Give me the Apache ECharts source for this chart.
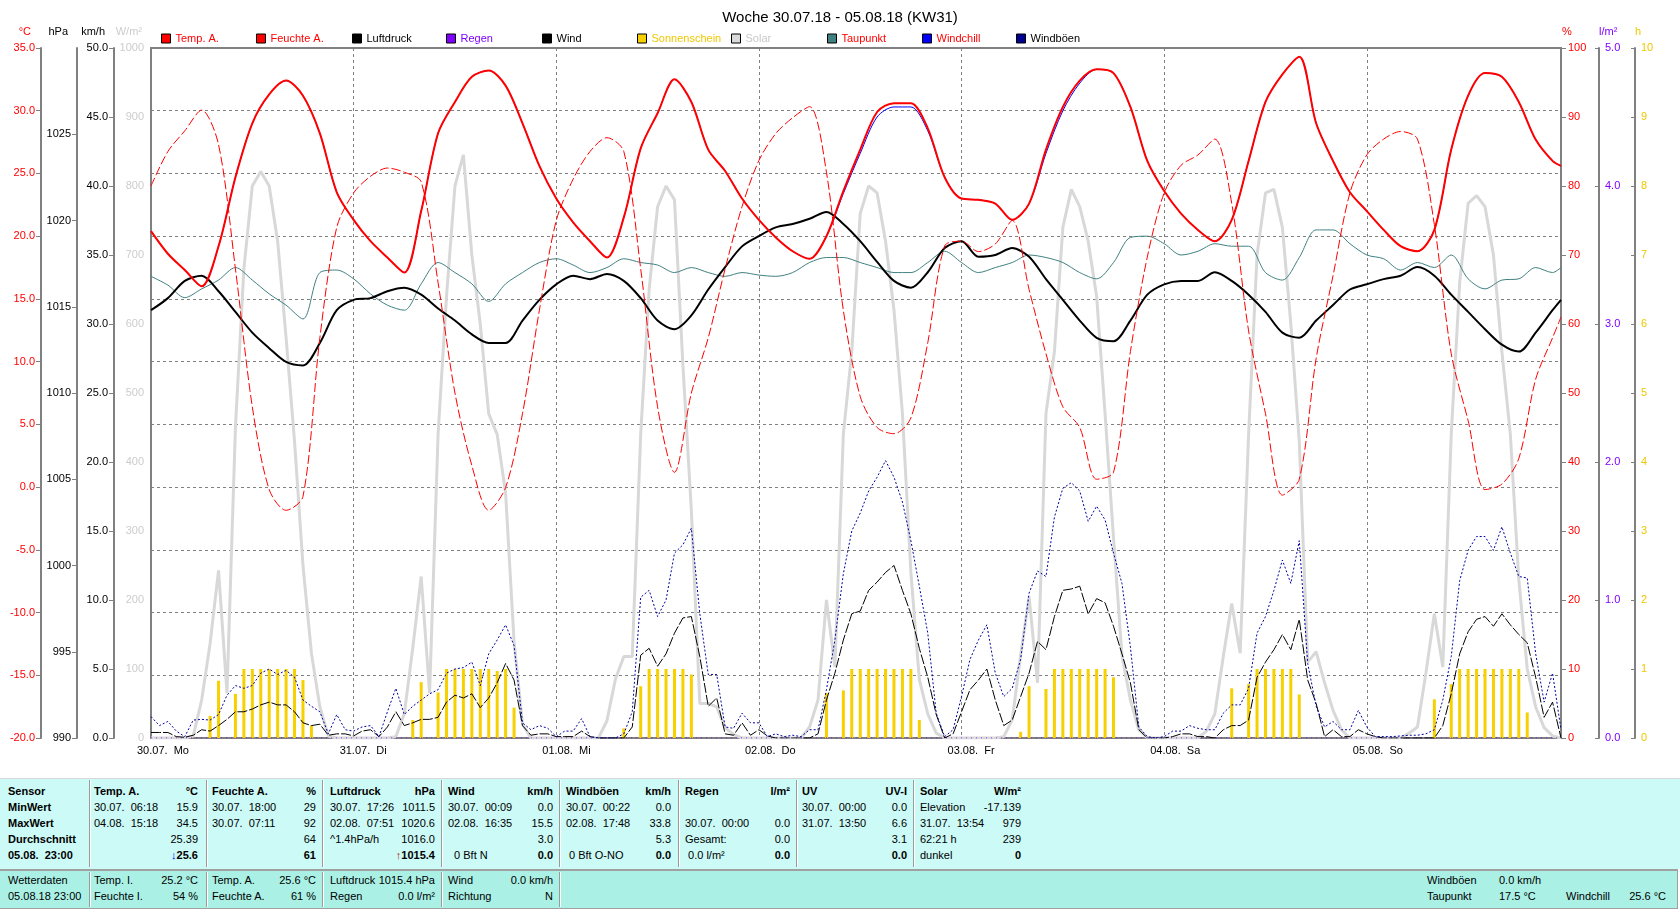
<!DOCTYPE html>
<html>
<head>
<meta charset="utf-8">
<title>Woche 30.07.18 - 05.08.18 (KW31)</title>
<script src="https://cdn.jsdelivr.net/npm/echarts@6/dist/echarts.min.js"></script>
<style>
html,body{margin:0;padding:0;background:#ffffff;overflow:hidden;}
#chart{position:absolute;left:0;top:0;width:1680px;height:909px;}
#tbl{position:absolute;left:0;top:0;width:1680px;height:909px;pointer-events:none;font-family:"Liberation Sans",Arial,sans-serif;font-size:11px;color:#000;}
#tbl .box{position:absolute;box-sizing:border-box;}
#tbl .sep{position:absolute;width:1px;background:#9a9a9a;border-right:1px solid #ffffff;}
#tbl .t{position:absolute;white-space:pre;line-height:14px;height:14px;}
</style>
</head>
<body>
<div id="chart"></div>
<div id="tbl"></div>
<script>
// ---------------- DATA ----------------
const DAY_HOURS = [0, 24, 48, 72, 96, 120, 144];
const DAY_LABELS = ['30.07.  Mo', '31.07.  Di', '01.08.  Mi', '02.08.  Do', '03.08.  Fr', '04.08.  Sa', '05.08.  So'];

// time grid (hours since 30.07. 00:00)
const HOURS_2H = [0,2,4,6,8,10,12,14,16,18,20,22,24,26,28,30,32,34,36,38,40,42,44,46,48,50,52,54,56,58,60,62,64,66,68,70,
  72,74,76,78,80,82,84,86,88,90,92,94,96,98,100,102,104,106,108,110,112,114,116,118,120,122,124,126,128,130,132,134,136,138,140,142,
  144,146,148,150,152,154,156,158,160,162,164,166,167];
const HOURS_1H = Array.from({length: 168}, (_, i) => i);

// Temp. A. (°C), 2-hourly
const TEMP = [
  20.4,18.6,17.3,16.0,19.2,24.7,29.0,31.3,32.4,31.2,28.2,23.5,
  21.3,19.6,18.3,17.1,22.0,28.2,30.7,32.7,33.2,32.0,29.0,25.6,
  23.0,21.1,19.6,18.3,21.5,27.0,29.8,32.5,30.7,26.9,25.2,23.0,
  21.3,19.9,18.8,18.2,20.0,23.6,26.9,29.9,30.6,30.6,28.6,24.7,
  23.0,22.9,22.6,21.3,22.6,26.9,30.3,32.4,33.3,33.0,30.3,26.0,
  23.6,21.8,20.5,19.6,21.3,26.0,30.7,32.9,34.3,29.0,26.0,23.5,
  22.0,20.5,19.2,18.8,20.5,26.9,31.2,33.0,32.7,30.7,27.7,26.0,25.6];
// Windchill (°C), 2-hourly
const WINDCHILL = [
  20.4,18.6,17.3,16.0,19.2,24.7,29.0,31.3,32.4,31.2,28.2,23.5,
  21.3,19.6,18.3,17.1,22.0,28.2,30.7,32.7,33.2,32.0,29.0,25.6,
  23.0,21.1,19.6,18.3,21.5,27.0,29.8,32.5,30.7,26.9,25.2,23.0,
  21.3,19.9,18.8,18.2,20.0,23.4,26.6,29.5,30.3,30.3,28.4,24.7,
  23.0,22.9,22.6,21.3,22.6,26.6,30.0,32.2,33.3,33.0,30.3,26.0,
  23.6,21.8,20.5,19.6,21.3,26.0,30.7,32.9,34.3,29.0,26.0,23.5,
  22.0,20.5,19.2,18.8,20.5,26.9,31.2,33.0,32.7,30.7,27.7,26.0,25.6];
// Feuchte A. (%), 2-hourly
const HUMIDITY = [
  80,85,88,91,86,68,48,36,33,35,58,74,
  79,81.4,82.6,82,80.6,66,50,39.5,33,36.3,47,62,
  75,81,85,87,85,68,48,38.5,50,58,68,77,
  83.7,87.6,89.9,91.5,82,62,49.5,45,44.1,46.4,57.3,71.3,
  72,70.5,71.6,75,65,55.7,48,45,37.5,38.5,56,69.7,
  79,83,84.5,86.8,77.5,59,47,35.2,37.5,55,67,79,
  84.5,86.8,87.9,86.8,74.4,55.7,46,36,36.8,40.5,52,58,61];
// Luftdruck (hPa), 2-hourly
const PRESSURE = [
  1014.8,1015.5,1016.5,1016.8,1015.9,1014.7,1013.5,1012.6,1011.8,1011.6,1012.9,1014.8,
  1015.4,1015.5,1015.9,1016.1,1015.7,1014.9,1014.2,1013.4,1012.9,1012.9,1014.2,1015.4,
  1016.3,1016.8,1016.6,1016.9,1016.5,1015.5,1014.2,1013.7,1014.5,1016.0,1017.3,1018.5,
  1019.1,1019.6,1019.8,1020.1,1020.5,1019.8,1018.8,1017.6,1016.5,1016.1,1017.0,1018.4,
  1018.8,1017.9,1018.0,1018.4,1017.9,1016.6,1015.4,1014.2,1013.2,1013.0,1014.2,1015.7,
  1016.3,1016.5,1016.5,1017.0,1016.5,1015.7,1014.7,1013.5,1013.2,1014.2,1015.1,1016.0,
  1016.3,1016.6,1016.8,1017.3,1016.8,1015.7,1014.7,1013.7,1012.8,1012.4,1013.5,1014.8,1015.4];
// Taupunkt (°C), 2-hourly
const DEWPOINT = [
  16.8,16.1,15.1,15.8,16.5,17.5,16.5,15.4,14.5,13.4,17.1,17.3,
  16.6,15.4,14.5,14.1,16.2,17.9,17.1,16.2,14.8,16.2,17.1,17.9,
  18.2,17.7,17.1,17.5,18.2,17.9,17.7,17.1,17.5,17.1,16.8,17.1,
  16.9,16.8,17.1,17.9,18.3,18.3,17.9,17.5,17.1,17.1,17.9,18.8,
  17.9,17.1,17.5,17.9,18.5,18.3,17.9,17.1,16.6,17.9,19.9,20.0,
  19.4,18.5,18.8,19.4,19.2,19.2,17.1,16.5,18.3,20.5,20.5,19.4,
  18.5,18.2,17.3,17.9,17.5,18.5,16.6,15.8,16.5,16.6,17.5,17.1,17.5];
// Wind (km/h), hourly
const WIND = [
  0.4,0.4,0.4,0.1,0.05,0.2,0.6,0.5,0.9,1.35,1.9,1.9,2.1,2.4,2.6,2.4,2.4,1.9,1.1,0.9,1.0,0.2,0.3,0.3,
  0.15,0.5,0.6,0.1,0.8,1.9,0.9,1.1,1.35,1.35,1.5,2.6,3.1,2.9,3.2,2.2,2.9,4.0,5.4,4.2,0.9,0.2,0.3,0.3,
  0.1,0.1,0.1,0.5,0.1,0,0,0,0,0.8,6.0,6.5,5.2,6.1,7.6,8.7,8.8,5.9,2.3,2.9,0.3,0.2,1.1,0.2,
  0.6,0.15,0,0,0,0,0,0.3,2.75,4.7,7.1,9.0,9.2,10.7,11.3,12.0,12.5,10.7,9.0,6.5,4.4,1.7,0,0.3,
  1.9,3.5,4.2,5.0,2.75,0.9,1.3,3.0,4.7,7.0,6.4,8.8,10.7,10.8,11.0,9.0,10.1,9.8,8.1,6.1,4.0,0.6,0,0,
  0,0.1,0.3,0.3,0.1,0.1,0,0.6,0.9,0.9,1.3,4.4,5.5,6.4,7.5,6.4,8.6,4.2,2.5,0.1,0.6,0.1,0.1,0.6,
  0.3,0.1,0,0,0,0,0,0,0,0.9,3.2,6.1,7.7,8.6,8.8,8.1,9.0,8.2,7.5,6.9,4.4,1.5,2.6,0];
// Windböen (km/h), hourly
const GUST = [
  1.55,0.9,1.2,0.5,0.1,1.3,1.35,1.3,1.7,3.1,3.8,3.6,3.8,4.7,5.0,4.6,4.9,4.4,2.75,2.3,1.9,0.3,1.7,0.6,
  0.5,0.8,0.9,0.1,1.9,3.6,1.7,2.3,2.75,3.2,3.5,4.7,5.0,5.1,5.5,3.8,6.1,7.1,8.2,6.7,1.1,0.6,0.9,0.7,
  0.1,0.5,0.5,1.4,0.1,0,0,0,0.3,1.9,10.2,10.7,8.8,10.0,13.4,14.0,15.2,9.0,4.6,4.6,0.8,0.7,1.8,1.1,
  1.1,0.1,0.3,0.1,0.2,0.1,0.6,0.6,3.5,7.1,11.9,15.0,16.3,17.9,18.9,20.1,18.9,17.1,14.3,11.0,7.6,1.8,0.1,0.6,
  3.0,5.7,7.1,8.2,4.7,3.0,3.6,5.7,10.5,12.1,11.7,16.0,18.1,18.5,17.9,15.7,16.8,15.8,13.4,11.2,6.6,0.8,0.1,0,
  0.1,0.5,0.5,0.9,0.7,0.6,0.6,1.8,2.4,2.4,3.6,7.6,8.8,10.7,12.9,11.2,14.3,5.4,2.3,0.8,1.2,0.6,0.6,2.0,
  0.8,0.1,0.1,0.1,0.15,0.2,0.2,0.3,0.6,2.75,5.9,11.4,13.6,14.6,14.6,13.6,15.3,13.4,11.7,11.6,6.1,2.6,4.7,0.6];
// Solar (W/m²), hourly
const SOLAR = [
  0,0,0,0,0,3,55,137,243,65,450,680,800,821,800,720,580,430,250,123,45,3,0,0,
  0,0,0,0,0,2,35,130,234,65,440,640,800,845,700,600,470,440,355,140,20,0,0,0,
  0,0,0,0,0,0,25,85,118,118,440,650,770,800,780,540,330,50,50,45,15,5,0,0,
  0,0,0,0,0,0,16,55,200,103,440,560,760,800,790,720,620,470,240,85,35,7,0,0,
  0,0,0,0,0,2,26,120,205,80,470,560,740,795,770,720,640,470,290,120,55,12,0,0,
  0,0,0,0,0,10,35,118,195,123,440,700,790,795,740,600,430,110,125,80,40,12,0,0,
  0,0,0,0,0,7,16,94,180,103,440,660,775,786,770,700,560,440,230,100,45,15,3,0];
// Sonnenschein (h per hour)
const SUN_HOURS = [7,8,10,11,12,13,14,15,16,17,18,19,
  31,32,34,35,36,37,38,39,40,41,42,43,
  56,58,59,60,61,62,63,64,
  80,82,83,84,85,86,87,88,89,90,91,
  103,104,106,107,108,109,110,111,112,113,114,
  128,130,131,132,133,134,135,136,
  152,154,155,156,157,158,159,160,161,162,163];
const SUN_VALUES = [0.32,0.83,0.64,1,1,1,1,1,1,1,0.84,0.18,
  0.26,0.81,0.66,1,1,1,1,1,1,0.97,1,0.44,
  0.14,0.75,1,1,1,1,1,0.92,
  0.65,0.69,1,1,1,1,1,1,1,1,0.26,
  0.09,0.75,0.71,1,1,1,1,1,1,1,0.88,
  0.72,0.78,1,1,1,1,1,0.63,
  0.56,0.78,1,1,1,1,1,1,1,1,0.37];
// Regen (l/m²)
const RAIN_HOURS = [0, 167];
const RAIN = [0, 0];

// ---------------- CHART ----------------
const FONT = '"Liberation Sans", Arial, Helvetica, sans-serif';
const GRID = {left: 151, top: 48, width: 1410, height: 690};
const mk = (xs, ys) => xs.map((x, i) => [x, ys[i]]);

function yAxis(o) {
  return {
    type: 'value', position: o.position, offset: o.offset, min: o.min, max: o.max, interval: o.interval,
    axisLine: {show: true, onZero: false, lineStyle: {color: '#808080', width: 2}},
    axisTick: {show: o.tick !== false, inside: !!o.inside, length: o.tickLen || 5, lineStyle: {color: '#808080', width: 1}},
    axisLabel: {show: true, color: o.color, fontSize: 11, fontFamily: FONT, margin: o.margin || 6,
      formatter: o.fmt, showMaxLabel: o.showMax !== false, showMinLabel: true},
    splitLine: o.split ? {show: true, lineStyle: {color: '#808080', width: 1, type: [3, 3]}} : {show: false}
  };
}

const legendItems = [
  ['Temp. A.', '#FF0000', '#FF0000', 161],
  ['Feuchte A.', '#FF0000', '#FF0000', 256],
  ['Luftdruck', '#000000', '#000000', 352],
  ['Regen', '#8000FF', '#8000FF', 446],
  ['Wind', '#000000', '#000000', 542],
  ['Sonnenschein', '#F7D000', '#F0C800', 637],
  ['Solar', '#DADADA', '#C8C8C8', 731],
  ['Taupunkt', '#408080', '#FF0000', 827],
  ['Windchill', '#0000FF', '#FF0000', 922],
  ['Windböen', '#000090', '#000000', 1016]
];

const option = {
  animation: false,
  backgroundColor: '#ffffff',
  textStyle: {fontFamily: FONT},
  title: {text: 'Woche 30.07.18 - 05.08.18 (KW31)', left: 'center', top: 5,
    textStyle: {fontSize: 15, fontWeight: 'normal', color: '#000', fontFamily: FONT}},
  legend: legendItems.map(it => ({
    left: it[3], top: 33, padding: 0, itemWidth: 9, itemHeight: 9, itemGap: 0, icon: 'rect', selectedMode: false,
    textStyle: {fontSize: 11, fontFamily: FONT, color: it[2], padding: [0, 0, 0, 0]},
    data: [{name: it[0], icon: 'rect', itemStyle: {color: it[1], borderColor: '#000', borderWidth: 1, borderType: 'solid'},
      lineStyle: {width: 0}, textStyle: {color: it[2]}}]
  })),
  grid: Object.assign({show: true, borderColor: '#808080', borderWidth: 2, backgroundColor: 'rgba(0,0,0,0)'}, GRID),
  xAxis: {
    type: 'value', min: 0, max: 167, interval: 24,
    axisLine: {show: true, onZero: false, lineStyle: {color: '#808080', width: 2}},
    axisTick: {show: false}, axisLabel: {show: false},
    splitLine: {show: true, lineStyle: {color: '#808080', width: 1, type: [3, 3]}}
  },
  yAxis: [
    yAxis({position: 'left', offset: 110, min: -20, max: 35, interval: 5, color: '#FF0000', fmt: v => v.toFixed(1), split: true}),
    yAxis({position: 'left', offset: 74, min: 990, max: 1030, interval: 5, color: '#000000', fmt: v => String(v), showMax: false}),
    yAxis({position: 'left', offset: 37, min: 0, max: 50, interval: 5, color: '#000000', fmt: v => v.toFixed(1)}),
    yAxis({position: 'left', offset: 0, min: 0, max: 1000, interval: 100, color: '#CCCCCC', fmt: v => String(v), tick: false, margin: 7}),
    yAxis({position: 'right', offset: 0, min: 0, max: 100, interval: 10, color: '#FF0000', fmt: v => String(v), margin: 7}),
    yAxis({position: 'right', offset: 38, min: 0, max: 5, interval: 1, color: '#8000FF', fmt: v => v.toFixed(1), inside: true, tickLen: 4, margin: 6}),
    yAxis({position: 'right', offset: 74, min: 0, max: 10, interval: 1, color: '#F0C800', fmt: v => String(v), inside: true, tickLen: 4, margin: 6})
  ],
  series: [
    {name: 'Sonnenschein', type: 'bar', yAxisIndex: 6, data: mk(SUN_HOURS, SUN_VALUES), barWidth: 3,
      itemStyle: {color: '#F7D000'}, z: 1, silent: true},
    {name: 'Solar', type: 'line', yAxisIndex: 3, data: mk(HOURS_1H, SOLAR), symbol: 'none',
      lineStyle: {color: '#D8D8D8', width: 3}, itemStyle: {color: '#D8D8D8'}, z: 2, silent: true},
    {name: 'Regen', type: 'line', yAxisIndex: 5, data: mk(RAIN_HOURS, RAIN), symbol: 'none',
      lineStyle: {color: '#8000FF', width: 1, type: [1, 4]}, itemStyle: {color: '#8000FF'}, z: 3, silent: true},
    {name: 'Wind', type: 'line', yAxisIndex: 2, data: mk(HOURS_1H, WIND), symbol: 'none',
      lineStyle: {color: '#000000', width: 1, type: [10, 2]}, itemStyle: {color: '#000000'}, z: 4, silent: true},
    {name: 'Windböen', type: 'line', yAxisIndex: 2, data: mk(HOURS_1H, GUST), symbol: 'none',
      lineStyle: {color: '#0000A0', width: 1, type: [2, 2]}, itemStyle: {color: '#0000A0'}, z: 5, silent: true},
    {name: 'Taupunkt', type: 'line', yAxisIndex: 0, data: mk(HOURS_2H, DEWPOINT), symbol: 'none', smooth: 0.3,
      lineStyle: {color: '#408080', width: 1}, itemStyle: {color: '#408080'}, z: 6, silent: true},
    {name: 'Luftdruck', type: 'line', yAxisIndex: 1, data: mk(HOURS_2H, PRESSURE), symbol: 'none', smooth: 0.3,
      lineStyle: {color: '#000000', width: 2}, itemStyle: {color: '#000000'}, z: 7, silent: true},
    {name: 'Feuchte A.', type: 'line', yAxisIndex: 4, data: mk(HOURS_2H, HUMIDITY), symbol: 'none', smooth: 0.3,
      lineStyle: {color: '#FF0000', width: 1, type: [9, 3]}, itemStyle: {color: '#FF0000'}, z: 8, silent: true},
    {name: 'Windchill', type: 'line', yAxisIndex: 0, data: mk(HOURS_2H, WINDCHILL), symbol: 'none', smooth: 0.3,
      lineStyle: {color: '#0000FF', width: 1}, itemStyle: {color: '#0000FF'}, z: 9, silent: true},
    {name: 'Temp. A.', type: 'line', yAxisIndex: 0, data: mk(HOURS_2H, TEMP), symbol: 'none', smooth: 0.3,
      lineStyle: {color: '#FF0000', width: 2}, itemStyle: {color: '#FF0000'}, z: 10, silent: true}
  ]
};

const chart = echarts.init(document.getElementById('chart'), null, {renderer: 'canvas'});
chart.setOption(option);

function txt(x, y, text, color, align) {
  return {type: 'text', x: x, y: y, silent: true, z: 100,
    style: {text: text, fill: color, font: '11px ' + FONT, align: align, textAlign: align,
      verticalAlign: 'middle', textVerticalAlign: 'middle'}};
}
const graphics = DAY_HOURS.map((h, i) => txt(chart.convertToPixel({xAxisIndex: 0}, h) - 14, 751, DAY_LABELS[i], '#000', 'left'));
[['°C', 31, '#FF0000', 'right'], ['hPa', 68, '#000', 'right'], ['km/h', 105, '#000', 'right'], ['W/m²', 142, '#CCCCCC', 'right'],
 ['%', 1562, '#FF0000', 'left'], ['l/m²', 1599, '#8000FF', 'left'], ['h', 1635, '#F0C800', 'left']]
  .forEach(u => graphics.push(txt(u[1], 32, u[0], u[2], u[3])));
chart.setOption({graphic: graphics});

// ---------------- TABLE ----------------
const tbl = document.getElementById('tbl');
function box(l, t, w, h, css) {
  const d = document.createElement('div'); d.className = 'box';
  d.style.left = l + 'px'; d.style.top = t + 'px'; d.style.width = w + 'px'; d.style.height = h + 'px';
  d.style.cssText += css; tbl.appendChild(d); return d;
}
function sep(x, t, h) {
  const d = document.createElement('div'); d.className = 'sep';
  d.style.left = x + 'px'; d.style.top = t + 'px'; d.style.height = h + 'px'; tbl.appendChild(d);
}
function put(x, yc, html, right, bold, color) {
  const d = document.createElement('div'); d.className = 't';
  d.style.top = (yc - 7) + 'px';
  if (right) d.style.right = (1680 - x) + 'px'; else d.style.left = x + 'px';
  if (bold) d.style.fontWeight = 'bold';
  if (color) d.style.color = color;
  d.innerHTML = html; tbl.appendChild(d);
}
box(0, 778, 1680, 91, 'background:#CCFAF7;border-top:1px solid #d8d8d8;');
box(0, 869, 1678, 40, 'background:#AAF0E5;border-top:2px solid #a0a0a0;border-right:1px solid #a0a0a0;border-bottom:1px solid #a0a0a0;');
[89, 206, 322, 441, 559, 678, 796, 913].forEach(x => sep(x, 780, 87));
[89, 206, 322, 441, 559].forEach(x => sep(x, 872, 35));

const ROWS = [791, 807, 823, 839, 855];
const COL_L = [94, 212, 330, 448, 566, 685, 802, 920];
const COL_R = [198, 316, 435, 553, 671, 790, 907, 1021];
['Sensor', 'MinWert', 'MaxWert', 'Durchschnitt', '05.08.  23:00'].forEach((s, i) => put(8, ROWS[i], s, false, true));
const HEAD = [['Temp. A.', '°C'], ['Feuchte A.', '%'], ['Luftdruck', 'hPa'], ['Wind', 'km/h'], ['Windböen', 'km/h'],
  ['Regen', 'l/m²'], ['UV', 'UV-I'], ['Solar', 'W/m²']];
const DN = '<span style="color:#0000FF">&#8595;</span>';
const UP = '<span style="color:#B03000">&#8593;</span>';
const CELLS = [
  [['30.07.  06:18', '15.9'], ['04.08.  15:18', '34.5'], ['', '25.39'], ['', DN + '25.6']],
  [['30.07.  18:00', '29'], ['30.07.  07:11', '92'], ['', '64'], ['', '61']],
  [['30.07.  17:26', '1011.5'], ['02.08.  07:51', '1020.6'], ['^1.4hPa/h', '1016.0'], ['', UP + '1015.4']],
  [['30.07.  00:09', '0.0'], ['02.08.  16:35', '15.5'], ['', '3.0'], ['  0 Bft N', '0.0']],
  [['30.07.  00:22', '0.0'], ['02.08.  17:48', '33.8'], ['', '5.3'], [' 0 Bft O-NO', '0.0']],
  [['', ''], ['30.07.  00:00', '0.0'], ['Gesamt:', '0.0'], [' 0.0 l/m²', '0.0']],
  [['30.07.  00:00', '0.0'], ['31.07.  13:50', '6.6'], ['', '3.1'], ['', '0.0']],
  [['Elevation', '-17.139'], ['31.07.  13:54', '979'], ['62:21 h', '239'], ['dunkel', '0']]
];
HEAD.forEach((h, c) => { put(COL_L[c], ROWS[0], h[0], false, true); put(COL_R[c], ROWS[0], h[1], true, true); });
CELLS.forEach((col, c) => col.forEach((cell, r) => {
  if (cell[0]) put(COL_L[c], ROWS[r + 1], cell[0], false, false);
  if (cell[1]) put(COL_R[c], ROWS[r + 1], cell[1], true, r === 3);
}));
const R2 = [880, 896];
put(8, R2[0], 'Wetterdaten'); put(8, R2[1], '05.08.18 23:00');
put(94, R2[0], 'Temp. I.'); put(198, R2[0], '25.2 °C', true); put(94, R2[1], 'Feuchte I.'); put(198, R2[1], '54 %', true);
put(212, R2[0], 'Temp. A.'); put(316, R2[0], '25.6 °C', true); put(212, R2[1], 'Feuchte A.'); put(316, R2[1], '61 %', true);
put(330, R2[0], 'Luftdruck'); put(435, R2[0], '1015.4 hPa', true); put(330, R2[1], 'Regen'); put(435, R2[1], '0.0 l/m²', true);
put(448, R2[0], 'Wind'); put(553, R2[0], '0.0 km/h', true); put(448, R2[1], 'Richtung'); put(553, R2[1], 'N', true);
put(1427, R2[0], 'Windböen'); put(1499, R2[0], '0.0 km/h');
put(1427, R2[1], 'Taupunkt'); put(1499, R2[1], '17.5 °C'); put(1566, R2[1], 'Windchill'); put(1666, R2[1], '25.6 °C', true);
</script>
</body>
</html>
